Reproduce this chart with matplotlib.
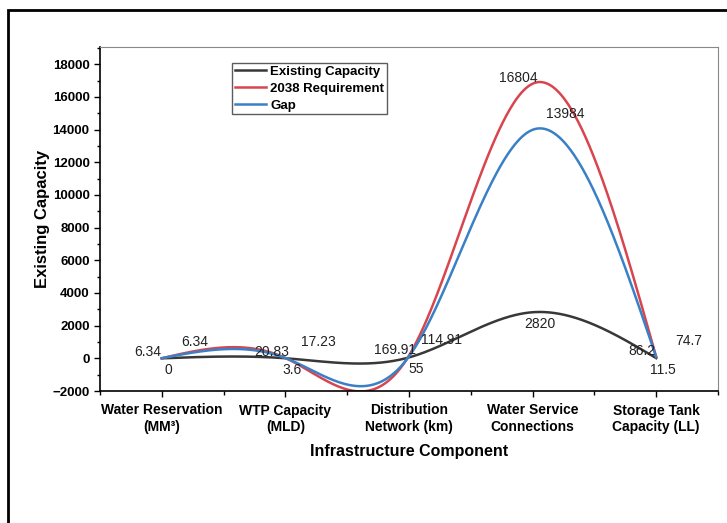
import numpy as np
import matplotlib
matplotlib.use("Agg")
import matplotlib.pyplot as plt
from matplotlib.patches import Rectangle
from matplotlib.ticker import MultipleLocator

plt.rcParams['font.family'] = ['Liberation Sans', 'DejaVu Sans']

categories = ["Water Reservation\n(MM³)", "WTP Capacity\n(MLD)", "Distribution\nNetwork (km)",
              "Water Service\nConnections", "Storage Tank\nCapacity (LL)"]
existing = [0, 3.6, 55, 2820, 11.5]
requirement = [6.34, 20.83, 169.91, 16804, 86.2]
gap = [6.34, 17.23, 114.91, 13984, 74.7]


def natural_spline(x, y, n=400):
    # plain natural cubic spline, like Origin's "spline" connect
    x = np.asarray(x, float)
    y = np.asarray(y, float)
    k = len(x)
    h = np.diff(x)
    A = np.zeros((k, k))
    b = np.zeros(k)
    A[0, 0] = 1
    A[-1, -1] = 1
    for i in range(1, k - 1):
        A[i, i - 1] = h[i - 1]
        A[i, i] = 2 * (h[i - 1] + h[i])
        A[i, i + 1] = h[i]
        b[i] = 3 * ((y[i + 1] - y[i]) / h[i] - (y[i] - y[i - 1]) / h[i - 1])
    c = np.linalg.solve(A, b)
    xs = np.linspace(x[0], x[-1], n)
    idx = np.clip(np.searchsorted(x, xs) - 1, 0, k - 2)
    dx = xs - x[idx]
    bb = (y[idx + 1] - y[idx]) / h[idx] - h[idx] * (2 * c[idx] + c[idx + 1]) / 3
    d = (c[idx + 1] - c[idx]) / (3 * h[idx])
    ys = y[idx] + bb * dx + c[idx] * dx ** 2 + d * dx ** 3
    return xs, ys


fig = plt.figure(figsize=(7.27, 5.23), dpi=100)
ax = fig.add_axes([100 / 727, 1 - 391 / 523, 618 / 727, 344 / 523])

pos = np.arange(len(categories))
# label offsets in pixels, converted to points below
series = [
    ("Existing Capacity", existing, "#383838", (7, -12)),
    ("2038 Requirement", requirement, "#d9454e", (-14, 6)),
    ("Gap", gap, "#3a80c6", (33, 16)),
]
px = 72 / fig.dpi
for name, vals, col, off in series:
    xs, ys = natural_spline(pos, vals)
    ax.plot(xs, ys, color=col, lw=1.8, label=name)
    for xi, v in zip(pos, vals):
        ax.annotate(f"{v:g}", (xi, v), xytext=(off[0] * px, off[1] * px),
                    textcoords="offset points", ha="center", va="center",
                    fontsize=10, color="#222222")

ax.set_xlim(-0.5, 4.5)
ax.set_ylim(-2000, 19050)
ax.set_xticks(pos)
ax.set_xticklabels(categories, fontweight="bold", fontsize=10, linespacing=1.25)
ax.xaxis.set_minor_locator(MultipleLocator(0.5))
ax.yaxis.set_major_locator(MultipleLocator(2000))
ax.yaxis.set_minor_locator(MultipleLocator(1000))
for lab in ax.get_yticklabels():
    lab.set_fontweight("bold")
    lab.set_fontsize(9.5)
ax.tick_params(which="major", direction="out", length=4, width=1)
ax.tick_params(which="minor", direction="out", length=2.5, width=1)
ax.tick_params(axis="x", which="minor", length=3)
ax.tick_params(axis="x", which="major", pad=5)

ax.set_xlabel("Infrastructure Component", fontweight="bold", fontsize=11.5, labelpad=7)
ax.set_ylabel("Existing Capacity", fontweight="bold", fontsize=12, labelpad=2)

ax.spines["top"].set_color("#888888")
ax.spines["right"].set_color("#888888")
ax.spines["left"].set_linewidth(1.2)
ax.spines["bottom"].set_linewidth(1.2)

leg = ax.legend(loc="upper left", bbox_to_anchor=(132 / 618, 1 - 16 / 344), frameon=True,
                fancybox=False, edgecolor="#333333", handlelength=2.4, handletextpad=0.3,
                borderpad=0.2, borderaxespad=0, labelspacing=0.35,
                prop={"weight": "bold", "size": 9.5})
leg.get_frame().set_linewidth(1.0)

# outer frame of the figure (only left and top visible)
fig.patches.append(Rectangle((8 / 727, -0.1), 1.2, 1.1 - 10 / 523, transform=fig.transFigure,
                             fill=False, edgecolor="black", lw=2))

fig.savefig("out.png", dpi=100)
